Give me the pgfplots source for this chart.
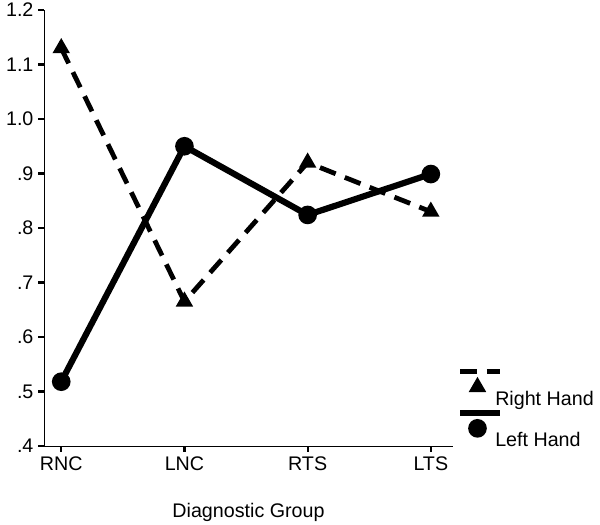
\documentclass[border=0pt]{standalone}
\usepackage{fontspec}
\setmainfont{Liberation Sans}
\usepackage{pgfplots}
\pgfplotsset{compat=1.18}

\begin{document}
\begin{tikzpicture}
\useasboundingbox (-1.1,-1.975) rectangle (13.9,11.15);
\begin{axis}[
    scale only axis,
    width=10.225cm, height=10.9cm,
    xmin=-0.14, xmax=3.18,
    ymin=0.4, ymax=1.2,
    axis x line=bottom, axis y line=left,
    axis line style={-, line width=0.6pt},
    xtick={0,1,2,3},
    xticklabels={RNC,LNC,RTS,LTS},
    ytick={0.4,0.5,0.6,0.7,0.8,0.9,1.0,1.1,1.2},
    yticklabels={.4,.5,.6,.7,.8,.9,1.0,1.1,1.2},
    tick align=outside,
    major tick length=0.14cm,
    tick style={line width=1.6pt, black},
    ticklabel style={font=\fontsize{14}{16}\selectfont},
    /pgf/number format/assume math mode=true,
    xlabel={Diagnostic Group},
    xlabel style={font=\fontsize{14}{16}\selectfont, yshift=-0.58cm},
    legend style={at={(1,0)}, anchor=south west, xshift=0.175cm, yshift=-0.07cm,
        draw=none, fill=none, inner sep=0pt, row sep=0.625cm,
        font=\fontsize{14}{16}\selectfont,
        nodes={inner sep=0pt, anchor=west}},
    legend cell align=left,
    legend image code/.code={
        \draw[overlay] (0cm,0.69cm) -- (1.0cm,0.69cm);
        \draw[overlay, mark options={solid}] plot coordinates {(0.43cm,0.3cm)};
        \path[draw=none, fill=none] (0cm,-0.05cm) rectangle (0.875cm,0.05cm);
    },
]
\addplot[black, line width=3.4pt, dash pattern=on 12pt off 7pt,
    mark=triangle*, mark size=3.8pt, mark options={solid}]
    coordinates {(0,1.13) (1,0.665) (2,0.92) (3,0.83)};
\addlegendentry{Right Hand}
\addplot[black, line width=4.4pt, mark=*, mark size=4.4pt, mark options={solid}]
    coordinates {(0,0.518) (1,0.95) (2,0.824) (3,0.899)};
\addlegendentry{Left Hand}
\end{axis}
\end{tikzpicture}
\end{document}
